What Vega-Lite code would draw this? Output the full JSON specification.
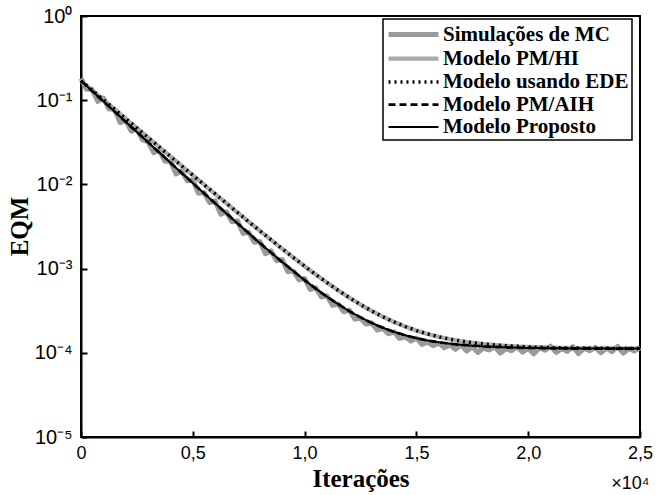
{
  "$schema": "https://vega.github.io/schema/vega-lite/v6.json",
  "width": 559,
  "height": 421,
  "autosize": {"type": "none"},
  "padding": {"left": 81, "top": 16, "right": 18, "bottom": 58},
  "title": {"text": "×10⁴", "orient": "bottom", "anchor": "end", "font": "Liberation Sans", "fontSize": 18, "fontWeight": "normal", "color": "black", "offset": -16, "dx": -3},
  "config": {
    "view": {"stroke": "black", "strokeWidth": 2},
    "axis": {"grid": false, "domainColor": "black", "domainWidth": 2, "tickColor": "black", "tickWidth": 2, "tickSize": -6, "labelFont": "Liberation Sans", "labelColor": "black", "labelFlush": false, "labelOverlap": false, "titleFont": "Liberation Serif", "titleFontWeight": "bold", "titleColor": "black", "titleFontSize": 25},
    "axisX": {"labelFontSize": 18, "labelPadding": 13, "titleY": 49, "titleBaseline": "alphabetic"},
    "axisY": {"labelFontSize": 20, "labelPadding": 15, "titleX": -54, "titleY": 210, "titleBaseline": "alphabetic", "titleAngle": -90},
    "legend": {"orient": "none", "legendX": 302, "legendY": 3, "symbolType": "M-1,0H4", "symbolSize": 400, "labelFont": "Liberation Serif", "labelFontSize": 21, "labelFontWeight": "bold", "labelColor": "black", "labelLimit": 400, "labelOffset": 32, "fillColor": "white", "strokeColor": "black", "strokeWidth": 1.5, "padding": 3, "rowPadding": 1}
  },
  "data": {"values": [
    {"series": "Simulações de MC", "t": 0, "v": 0.182},
    {"series": "Simulações de MC", "t": 250, "v": 0.1346},
    {"series": "Simulações de MC", "t": 500, "v": 0.1343},
    {"series": "Simulações de MC", "t": 750, "v": 0.097},
    {"series": "Simulações de MC", "t": 1000, "v": 0.1062},
    {"series": "Simulações de MC", "t": 1250, "v": 0.0785},
    {"series": "Simulações de MC", "t": 1500, "v": 0.0783},
    {"series": "Simulações de MC", "t": 1750, "v": 0.0541},
    {"series": "Simulações de MC", "t": 2000, "v": 0.0578},
    {"series": "Simulações de MC", "t": 2250, "v": 0.0428},
    {"series": "Simulações de MC", "t": 2500, "v": 0.0457},
    {"series": "Simulações de MC", "t": 2750, "v": 0.0338},
    {"series": "Simulações de MC", "t": 3000, "v": 0.0322},
    {"series": "Simulações de MC", "t": 3250, "v": 0.0238},
    {"series": "Simulações de MC", "t": 3500, "v": 0.0255},
    {"series": "Simulações de MC", "t": 3750, "v": 0.01884},
    {"series": "Simulações de MC", "t": 4000, "v": 0.01879},
    {"series": "Simulações de MC", "t": 4250, "v": 0.0133},
    {"series": "Simulações de MC", "t": 4500, "v": 0.01455},
    {"series": "Simulações de MC", "t": 4750, "v": 0.01102},
    {"series": "Simulações de MC", "t": 5000, "v": 0.01135},
    {"series": "Simulações de MC", "t": 5250, "v": 0.00785},
    {"series": "Simulações de MC", "t": 5500, "v": 0.00802},
    {"series": "Simulações de MC", "t": 5750, "v": 0.00608},
    {"series": "Simulações de MC", "t": 6000, "v": 0.00638},
    {"series": "Simulações de MC", "t": 6250, "v": 0.00442},
    {"series": "Simulações de MC", "t": 6500, "v": 0.00473},
    {"series": "Simulações de MC", "t": 6750, "v": 0.0036},
    {"series": "Simulações de MC", "t": 7000, "v": 0.00369},
    {"series": "Simulações de MC", "t": 7250, "v": 0.00262},
    {"series": "Simulações de MC", "t": 7500, "v": 0.0027},
    {"series": "Simulações de MC", "t": 7750, "v": 0.00205},
    {"series": "Simulações de MC", "t": 8000, "v": 0.0021},
    {"series": "Simulações de MC", "t": 8250, "v": 0.0015},
    {"series": "Simulações de MC", "t": 8500, "v": 0.00162},
    {"series": "Simulações de MC", "t": 8750, "v": 0.00124},
    {"series": "Simulações de MC", "t": 9000, "v": 0.00128},
    {"series": "Simulações de MC", "t": 9250, "v": 0.00092},
    {"series": "Simulações de MC", "t": 9500, "v": 0.000933},
    {"series": "Simulações de MC", "t": 9750, "v": 0.000735},
    {"series": "Simulações de MC", "t": 10000, "v": 0.000764},
    {"series": "Simulações de MC", "t": 10250, "v": 0.000565},
    {"series": "Simulações de MC", "t": 10500, "v": 0.000592},
    {"series": "Simulações de MC", "t": 10750, "v": 0.000461},
    {"series": "Simulações de MC", "t": 11000, "v": 0.000474},
    {"series": "Simulações de MC", "t": 11250, "v": 0.000366},
    {"series": "Simulações de MC", "t": 11500, "v": 0.00038},
    {"series": "Simulações de MC", "t": 11750, "v": 0.000307},
    {"series": "Simulações de MC", "t": 12000, "v": 0.00032},
    {"series": "Simulações de MC", "t": 12250, "v": 0.000251},
    {"series": "Simulações de MC", "t": 12500, "v": 0.000258},
    {"series": "Simulações de MC", "t": 12750, "v": 0.000219},
    {"series": "Simulações de MC", "t": 13000, "v": 0.000226},
    {"series": "Simulações de MC", "t": 13250, "v": 0.000186},
    {"series": "Simulações de MC", "t": 13500, "v": 0.000195},
    {"series": "Simulações de MC", "t": 13750, "v": 0.000168},
    {"series": "Simulações de MC", "t": 14000, "v": 0.000177},
    {"series": "Simulações de MC", "t": 14250, "v": 0.000148},
    {"series": "Simulações de MC", "t": 14500, "v": 0.000155},
    {"series": "Simulações de MC", "t": 14750, "v": 0.000138},
    {"series": "Simulações de MC", "t": 15000, "v": 0.000149},
    {"series": "Simulações de MC", "t": 15250, "v": 0.000126},
    {"series": "Simulações de MC", "t": 15500, "v": 0.000134},
    {"series": "Simulações de MC", "t": 15750, "v": 0.000122},
    {"series": "Simulações de MC", "t": 16000, "v": 0.00013},
    {"series": "Simulações de MC", "t": 16250, "v": 0.000115},
    {"series": "Simulações de MC", "t": 16500, "v": 0.000124},
    {"series": "Simulações de MC", "t": 16750, "v": 0.00011},
    {"series": "Simulações de MC", "t": 17000, "v": 0.000124},
    {"series": "Simulações de MC", "t": 17250, "v": 0.000105},
    {"series": "Simulações de MC", "t": 17500, "v": 0.000118},
    {"series": "Simulações de MC", "t": 17750, "v": 0.000101},
    {"series": "Simulações de MC", "t": 18000, "v": 0.000114},
    {"series": "Simulações de MC", "t": 18250, "v": 0.000108},
    {"series": "Simulações de MC", "t": 18500, "v": 0.000119},
    {"series": "Simulações de MC", "t": 18750, "v": 0.000099},
    {"series": "Simulações de MC", "t": 19000, "v": 0.000112},
    {"series": "Simulações de MC", "t": 19250, "v": 0.000106},
    {"series": "Simulações de MC", "t": 19500, "v": 0.000117},
    {"series": "Simulações de MC", "t": 19750, "v": 0.000102},
    {"series": "Simulações de MC", "t": 20000, "v": 0.000113},
    {"series": "Simulações de MC", "t": 20250, "v": 0.000097},
    {"series": "Simulações de MC", "t": 20500, "v": 0.000115},
    {"series": "Simulações de MC", "t": 20750, "v": 0.000107},
    {"series": "Simulações de MC", "t": 21000, "v": 0.00012},
    {"series": "Simulações de MC", "t": 21250, "v": 0.000101},
    {"series": "Simulações de MC", "t": 21500, "v": 0.000112},
    {"series": "Simulações de MC", "t": 21750, "v": 0.000104},
    {"series": "Simulações de MC", "t": 22000, "v": 0.000118},
    {"series": "Simulações de MC", "t": 22250, "v": 0.000098},
    {"series": "Simulações de MC", "t": 22500, "v": 0.000113},
    {"series": "Simulações de MC", "t": 22750, "v": 0.000106},
    {"series": "Simulações de MC", "t": 23000, "v": 0.000116},
    {"series": "Simulações de MC", "t": 23250, "v": 0.0001},
    {"series": "Simulações de MC", "t": 23500, "v": 0.000114},
    {"series": "Simulações de MC", "t": 23750, "v": 0.000103},
    {"series": "Simulações de MC", "t": 24000, "v": 0.000119},
    {"series": "Simulações de MC", "t": 24250, "v": 0.000099},
    {"series": "Simulações de MC", "t": 24500, "v": 0.000112},
    {"series": "Simulações de MC", "t": 24750, "v": 0.000105},
    {"series": "Simulações de MC", "t": 25000, "v": 0.000115},

    {"series": "Modelo PM/HI", "t": 0, "v": 0.1701},
    {"series": "Modelo PM/HI", "t": 1000, "v": 0.10137},
    {"series": "Modelo PM/HI", "t": 2000, "v": 0.06043},
    {"series": "Modelo PM/HI", "t": 3000, "v": 0.036041},
    {"series": "Modelo PM/HI", "t": 4000, "v": 0.021514},
    {"series": "Modelo PM/HI", "t": 5000, "v": 0.01286},
    {"series": "Modelo PM/HI", "t": 6000, "v": 0.0077056},
    {"series": "Modelo PM/HI", "t": 7000, "v": 0.0046352},
    {"series": "Modelo PM/HI", "t": 8000, "v": 0.0028063},
    {"series": "Modelo PM/HI", "t": 9000, "v": 0.0017169},
    {"series": "Modelo PM/HI", "t": 10000, "v": 0.00106798},
    {"series": "Modelo PM/HI", "t": 10500, "v": 0.00084982},
    {"series": "Modelo PM/HI", "t": 11000, "v": 0.00068145},
    {"series": "Modelo PM/HI", "t": 11500, "v": 0.00055148},
    {"series": "Modelo PM/HI", "t": 12000, "v": 0.0004512},
    {"series": "Modelo PM/HI", "t": 12500, "v": 0.00037378},
    {"series": "Modelo PM/HI", "t": 13000, "v": 0.00031405},
    {"series": "Modelo PM/HI", "t": 13500, "v": 0.00026794},
    {"series": "Modelo PM/HI", "t": 14000, "v": 0.00023235},
    {"series": "Modelo PM/HI", "t": 14500, "v": 0.00020489},
    {"series": "Modelo PM/HI", "t": 15000, "v": 0.00018369},
    {"series": "Modelo PM/HI", "t": 15500, "v": 0.00016733},
    {"series": "Modelo PM/HI", "t": 16000, "v": 0.0001547},
    {"series": "Modelo PM/HI", "t": 16500, "v": 0.00014496},
    {"series": "Modelo PM/HI", "t": 17000, "v": 0.00013744},
    {"series": "Modelo PM/HI", "t": 17500, "v": 0.00013163},
    {"series": "Modelo PM/HI", "t": 18000, "v": 0.00012715},
    {"series": "Modelo PM/HI", "t": 19000, "v": 0.00012103},
    {"series": "Modelo PM/HI", "t": 20000, "v": 0.00011738},
    {"series": "Modelo PM/HI", "t": 21000, "v": 0.0001152},
    {"series": "Modelo PM/HI", "t": 22000, "v": 0.00011391},
    {"series": "Modelo PM/HI", "t": 23000, "v": 0.00011314},
    {"series": "Modelo PM/HI", "t": 24000, "v": 0.00011268},
    {"series": "Modelo PM/HI", "t": 25000, "v": 0.0001124},

    {"series": "Modelo usando EDE", "t": 0, "v": 0.1701},
    {"series": "Modelo usando EDE", "t": 1000, "v": 0.10137},
    {"series": "Modelo usando EDE", "t": 2000, "v": 0.06043},
    {"series": "Modelo usando EDE", "t": 3000, "v": 0.036041},
    {"series": "Modelo usando EDE", "t": 4000, "v": 0.021514},
    {"series": "Modelo usando EDE", "t": 5000, "v": 0.01286},
    {"series": "Modelo usando EDE", "t": 6000, "v": 0.0077056},
    {"series": "Modelo usando EDE", "t": 7000, "v": 0.0046352},
    {"series": "Modelo usando EDE", "t": 8000, "v": 0.0028063},
    {"series": "Modelo usando EDE", "t": 9000, "v": 0.0017169},
    {"series": "Modelo usando EDE", "t": 10000, "v": 0.00106798},
    {"series": "Modelo usando EDE", "t": 10500, "v": 0.00084982},
    {"series": "Modelo usando EDE", "t": 11000, "v": 0.00068145},
    {"series": "Modelo usando EDE", "t": 11500, "v": 0.00055148},
    {"series": "Modelo usando EDE", "t": 12000, "v": 0.0004512},
    {"series": "Modelo usando EDE", "t": 12500, "v": 0.00037378},
    {"series": "Modelo usando EDE", "t": 13000, "v": 0.00031405},
    {"series": "Modelo usando EDE", "t": 13500, "v": 0.00026794},
    {"series": "Modelo usando EDE", "t": 14000, "v": 0.00023235},
    {"series": "Modelo usando EDE", "t": 14500, "v": 0.00020489},
    {"series": "Modelo usando EDE", "t": 15000, "v": 0.00018369},
    {"series": "Modelo usando EDE", "t": 15500, "v": 0.00016733},
    {"series": "Modelo usando EDE", "t": 16000, "v": 0.0001547},
    {"series": "Modelo usando EDE", "t": 16500, "v": 0.00014496},
    {"series": "Modelo usando EDE", "t": 17000, "v": 0.00013744},
    {"series": "Modelo usando EDE", "t": 17500, "v": 0.00013163},
    {"series": "Modelo usando EDE", "t": 18000, "v": 0.00012715},
    {"series": "Modelo usando EDE", "t": 19000, "v": 0.00012103},
    {"series": "Modelo usando EDE", "t": 20000, "v": 0.00011738},
    {"series": "Modelo usando EDE", "t": 21000, "v": 0.0001152},
    {"series": "Modelo usando EDE", "t": 22000, "v": 0.00011391},
    {"series": "Modelo usando EDE", "t": 23000, "v": 0.00011314},
    {"series": "Modelo usando EDE", "t": 24000, "v": 0.00011268},
    {"series": "Modelo usando EDE", "t": 25000, "v": 0.0001124},

    {"series": "Modelo PM/AIH", "t": 0, "v": 0.1701},
    {"series": "Modelo PM/AIH", "t": 1000, "v": 0.09704},
    {"series": "Modelo PM/AIH", "t": 2000, "v": 0.05538},
    {"series": "Modelo PM/AIH", "t": 3000, "v": 0.03163},
    {"series": "Modelo PM/AIH", "t": 4000, "v": 0.01808},
    {"series": "Modelo PM/AIH", "t": 5000, "v": 0.010355},
    {"series": "Modelo PM/AIH", "t": 6000, "v": 0.005953},
    {"series": "Modelo PM/AIH", "t": 7000, "v": 0.003442},
    {"series": "Modelo PM/AIH", "t": 8000, "v": 0.002011},
    {"series": "Modelo PM/AIH", "t": 9000, "v": 0.0011946},
    {"series": "Modelo PM/AIH", "t": 10000, "v": 0.00072924},
    {"series": "Modelo PM/AIH", "t": 10500, "v": 0.00057807},
    {"series": "Modelo PM/AIH", "t": 11000, "v": 0.00046392},
    {"series": "Modelo PM/AIH", "t": 11500, "v": 0.00037773},
    {"series": "Modelo PM/AIH", "t": 12000, "v": 0.00031265},
    {"series": "Modelo PM/AIH", "t": 12500, "v": 0.00026351},
    {"series": "Modelo PM/AIH", "t": 13000, "v": 0.00022641},
    {"series": "Modelo PM/AIH", "t": 13500, "v": 0.00019839},
    {"series": "Modelo PM/AIH", "t": 14000, "v": 0.00017723},
    {"series": "Modelo PM/AIH", "t": 14500, "v": 0.00016125},
    {"series": "Modelo PM/AIH", "t": 15000, "v": 0.00014919},
    {"series": "Modelo PM/AIH", "t": 15500, "v": 0.00014008},
    {"series": "Modelo PM/AIH", "t": 16000, "v": 0.00013321},
    {"series": "Modelo PM/AIH", "t": 17000, "v": 0.00012409},
    {"series": "Modelo PM/AIH", "t": 18000, "v": 0.00011889},
    {"series": "Modelo PM/AIH", "t": 19000, "v": 0.00011593},
    {"series": "Modelo PM/AIH", "t": 20000, "v": 0.00011424},
    {"series": "Modelo PM/AIH", "t": 21000, "v": 0.00011328},
    {"series": "Modelo PM/AIH", "t": 22000, "v": 0.00011273},
    {"series": "Modelo PM/AIH", "t": 23000, "v": 0.00011242},
    {"series": "Modelo PM/AIH", "t": 24000, "v": 0.00011224},
    {"series": "Modelo PM/AIH", "t": 25000, "v": 0.00011214},

    {"series": "Modelo Proposto", "t": 0, "v": 0.1701},
    {"series": "Modelo Proposto", "t": 1000, "v": 0.09704},
    {"series": "Modelo Proposto", "t": 2000, "v": 0.05538},
    {"series": "Modelo Proposto", "t": 3000, "v": 0.03163},
    {"series": "Modelo Proposto", "t": 4000, "v": 0.01808},
    {"series": "Modelo Proposto", "t": 5000, "v": 0.010355},
    {"series": "Modelo Proposto", "t": 6000, "v": 0.005953},
    {"series": "Modelo Proposto", "t": 7000, "v": 0.003442},
    {"series": "Modelo Proposto", "t": 8000, "v": 0.002011},
    {"series": "Modelo Proposto", "t": 9000, "v": 0.0011946},
    {"series": "Modelo Proposto", "t": 10000, "v": 0.00072924},
    {"series": "Modelo Proposto", "t": 10500, "v": 0.00057807},
    {"series": "Modelo Proposto", "t": 11000, "v": 0.00046392},
    {"series": "Modelo Proposto", "t": 11500, "v": 0.00037773},
    {"series": "Modelo Proposto", "t": 12000, "v": 0.00031265},
    {"series": "Modelo Proposto", "t": 12500, "v": 0.00026351},
    {"series": "Modelo Proposto", "t": 13000, "v": 0.00022641},
    {"series": "Modelo Proposto", "t": 13500, "v": 0.00019839},
    {"series": "Modelo Proposto", "t": 14000, "v": 0.00017723},
    {"series": "Modelo Proposto", "t": 14500, "v": 0.00016125},
    {"series": "Modelo Proposto", "t": 15000, "v": 0.00014919},
    {"series": "Modelo Proposto", "t": 15500, "v": 0.00014008},
    {"series": "Modelo Proposto", "t": 16000, "v": 0.00013321},
    {"series": "Modelo Proposto", "t": 17000, "v": 0.00012409},
    {"series": "Modelo Proposto", "t": 18000, "v": 0.00011889},
    {"series": "Modelo Proposto", "t": 19000, "v": 0.00011593},
    {"series": "Modelo Proposto", "t": 20000, "v": 0.00011424},
    {"series": "Modelo Proposto", "t": 21000, "v": 0.00011328},
    {"series": "Modelo Proposto", "t": 22000, "v": 0.00011273},
    {"series": "Modelo Proposto", "t": 23000, "v": 0.00011242},
    {"series": "Modelo Proposto", "t": 24000, "v": 0.00011224},
    {"series": "Modelo Proposto", "t": 25000, "v": 0.00011214}
  ]},
  "encoding": {
    "x": {"field": "t", "type": "quantitative", "title": "Iterações",
      "scale": {"domain": [0, 25000], "nice": false, "zero": false},
      "axis": {"values": [0, 5000, 10000, 15000, 20000, 25000], "labelExpr": "datum.value == 0 ? '0' : replace(format(datum.value / 10000, '.1f'), '.', ',')"}},
    "y": {"field": "v", "type": "quantitative", "title": "EQM",
      "scale": {"type": "log", "domain": [0.00001, 1], "nice": false},
      "axis": {"values": [0.00001, 0.0001, 0.001, 0.01, 0.1, 1], "labelExpr": "datum.value >= 0.5 ? '10⁰' : datum.value >= 0.05 ? '10⁻¹' : datum.value >= 0.005 ? '10⁻²' : datum.value >= 0.0005 ? '10⁻³' : datum.value >= 0.00005 ? '10⁻⁴' : '10⁻⁵'"}},
    "color": {"field": "series", "type": "nominal", "legend": {"title": null},
      "scale": {"domain": ["Simulações de MC", "Modelo PM/HI", "Modelo usando EDE", "Modelo PM/AIH", "Modelo Proposto"], "range": ["#9a9a9a", "#aaaaaa", "#000000", "#000000", "#000000"]}},
    "strokeDash": {"field": "series", "type": "nominal", "legend": {"title": null},
      "scale": {"domain": ["Simulações de MC", "Modelo PM/HI", "Modelo usando EDE", "Modelo PM/AIH", "Modelo Proposto"], "range": [[1, 0], [1, 0], [2, 4], [7, 4], [1, 0]]}},
    "strokeWidth": {"field": "series", "type": "nominal", "legend": {"title": null},
      "scale": {"domain": ["Simulações de MC", "Modelo PM/HI", "Modelo usando EDE", "Modelo PM/AIH", "Modelo Proposto"], "range": [5, 2, 2, 2, 2]}}
  },
  "layer": [
    {"transform": [{"filter": "datum.series === 'Simulações de MC'"}], "mark": {"type": "line", "strokeJoin": "round"}},
    {"transform": [{"filter": "datum.series === 'Modelo PM/HI'"}], "mark": {"type": "line"}},
    {"transform": [{"filter": "datum.series === 'Modelo usando EDE'"}], "mark": {"type": "line"}},
    {"transform": [{"filter": "datum.series === 'Modelo PM/AIH'"}], "mark": {"type": "line"}},
    {"transform": [{"filter": "datum.series === 'Modelo Proposto'"}], "mark": {"type": "line"}}
  ]
}
